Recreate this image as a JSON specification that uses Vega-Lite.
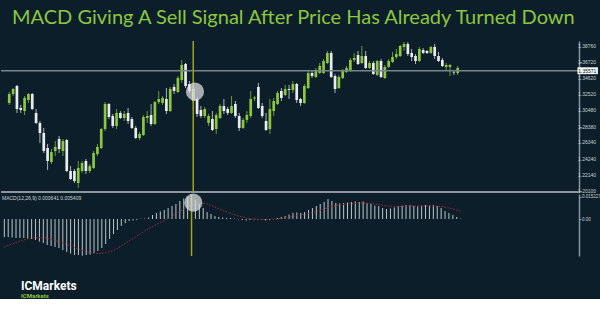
{
  "$schema": "https://vega.github.io/schema/vega-lite/v6.json",
  "background": "#0c1e29",
  "padding": {"left": 0, "top": 8, "right": 0, "bottom": 0},
  "bounds": "flush",
  "title": {"text": "MACD Giving A Sell Signal After Price Has Already Turned Down", "anchor": "start", "color": "#8dc63f", "font": "Lato", "fontSize": 20, "fontWeight": "normal", "offset": 12, "dx": 12},
  "config": {"view": {"stroke": null}, "axis": {"grid": false}},
  "spacing": 2,
  "resolve": {"scale": {"x": "independent", "y": "independent"}},
  "datasets": {
    "candles": [
      {"i":0,"o":1.3142,"h":1.3284,"l":1.3117,"c":1.3258},
      {"i":1,"o":1.3258,"h":1.3335,"l":1.3232,"c":1.3322},
      {"i":2,"o":1.3361,"h":1.3374,"l":1.3014,"c":1.3065},
      {"i":3,"o":1.3078,"h":1.3117,"l":1.3014,"c":1.3052},
      {"i":4,"o":1.3039,"h":1.3232,"l":1.2988,"c":1.3207},
      {"i":5,"o":1.3181,"h":1.3271,"l":1.3142,"c":1.3258},
      {"i":6,"o":1.3258,"h":1.3271,"l":1.3052,"c":1.3065},
      {"i":7,"o":1.3014,"h":1.3065,"l":1.2872,"c":1.2885},
      {"i":8,"o":1.2885,"h":1.2911,"l":1.2628,"c":1.2756},
      {"i":9,"o":1.2756,"h":1.2821,"l":1.2499,"c":1.2525},
      {"i":10,"o":1.2563,"h":1.2615,"l":1.2280,"c":1.2396},
      {"i":11,"o":1.2383,"h":1.2550,"l":1.2357,"c":1.2512},
      {"i":12,"o":1.2525,"h":1.2653,"l":1.2460,"c":1.2576},
      {"i":13,"o":1.2679,"h":1.2718,"l":1.2499,"c":1.2550},
      {"i":14,"o":1.2525,"h":1.2679,"l":1.2460,"c":1.2653},
      {"i":15,"o":1.2666,"h":1.2679,"l":1.2254,"c":1.2267},
      {"i":16,"o":1.2267,"h":1.2331,"l":1.2151,"c":1.2164},
      {"i":17,"o":1.2267,"h":1.2293,"l":1.2113,"c":1.2138},
      {"i":18,"o":1.2113,"h":1.2396,"l":1.2048,"c":1.2306},
      {"i":19,"o":1.2267,"h":1.2396,"l":1.2241,"c":1.2370},
      {"i":20,"o":1.2396,"h":1.2422,"l":1.2229,"c":1.2267},
      {"i":21,"o":1.2267,"h":1.2357,"l":1.2241,"c":1.2331},
      {"i":22,"o":1.2306,"h":1.2525,"l":1.2293,"c":1.2499},
      {"i":23,"o":1.2486,"h":1.2615,"l":1.2460,"c":1.2576},
      {"i":24,"o":1.2563,"h":1.2821,"l":1.2550,"c":1.2808},
      {"i":25,"o":1.2808,"h":1.3155,"l":1.2782,"c":1.3129},
      {"i":26,"o":1.3129,"h":1.3142,"l":1.2936,"c":1.2962},
      {"i":27,"o":1.2975,"h":1.3001,"l":1.2821,"c":1.2846},
      {"i":28,"o":1.2846,"h":1.3065,"l":1.2808,"c":1.3014},
      {"i":29,"o":1.3014,"h":1.3039,"l":1.2936,"c":1.2949},
      {"i":30,"o":1.2949,"h":1.3039,"l":1.2911,"c":1.3001},
      {"i":31,"o":1.3014,"h":1.3078,"l":1.2872,"c":1.2911},
      {"i":32,"o":1.2936,"h":1.2962,"l":1.2808,"c":1.2821},
      {"i":33,"o":1.2821,"h":1.2846,"l":1.2679,"c":1.2692},
      {"i":34,"o":1.2692,"h":1.2769,"l":1.2666,"c":1.2743},
      {"i":35,"o":1.2730,"h":1.2988,"l":1.2718,"c":1.2962},
      {"i":36,"o":1.2949,"h":1.3039,"l":1.2885,"c":1.2975},
      {"i":37,"o":1.2988,"h":1.3129,"l":1.2846,"c":1.2872},
      {"i":38,"o":1.2872,"h":1.3168,"l":1.2859,"c":1.3155},
      {"i":39,"o":1.3155,"h":1.3297,"l":1.3129,"c":1.3194},
      {"i":40,"o":1.3142,"h":1.3232,"l":1.3117,"c":1.3207},
      {"i":41,"o":1.3194,"h":1.3335,"l":1.3001,"c":1.3039},
      {"i":42,"o":1.3039,"h":1.3349,"l":1.3026,"c":1.3322},
      {"i":43,"o":1.3349,"h":1.3387,"l":1.3258,"c":1.3297},
      {"i":44,"o":1.3284,"h":1.3490,"l":1.3271,"c":1.3464},
      {"i":45,"o":1.3438,"h":1.3696,"l":1.3400,"c":1.3631},
      {"i":46,"o":1.3644,"h":1.3657,"l":1.3335,"c":1.3361},
      {"i":47,"o":1.3387,"h":1.3425,"l":1.3271,"c":1.3297},
      {"i":48,"o":1.3322,"h":1.3361,"l":1.3142,"c":1.3168},
      {"i":49,"o":1.3194,"h":1.3207,"l":1.2962,"c":1.3001},
      {"i":50,"o":1.3052,"h":1.3104,"l":1.2949,"c":1.2975},
      {"i":51,"o":1.2975,"h":1.3091,"l":1.2949,"c":1.3065},
      {"i":52,"o":1.2885,"h":1.3001,"l":1.2846,"c":1.2975},
      {"i":53,"o":1.2936,"h":1.3039,"l":1.2782,"c":1.2795},
      {"i":54,"o":1.2808,"h":1.3014,"l":1.2743,"c":1.2988},
      {"i":55,"o":1.2949,"h":1.3129,"l":1.2936,"c":1.3104},
      {"i":56,"o":1.3104,"h":1.3194,"l":1.3001,"c":1.3039},
      {"i":57,"o":1.3065,"h":1.3091,"l":1.2988,"c":1.3014},
      {"i":58,"o":1.3014,"h":1.3232,"l":1.3001,"c":1.3104},
      {"i":59,"o":1.3129,"h":1.3168,"l":1.2949,"c":1.2975},
      {"i":60,"o":1.2975,"h":1.3014,"l":1.2782,"c":1.2821},
      {"i":61,"o":1.2821,"h":1.2949,"l":1.2808,"c":1.2924},
      {"i":62,"o":1.2924,"h":1.3039,"l":1.2885,"c":1.2988},
      {"i":63,"o":1.2975,"h":1.3297,"l":1.2949,"c":1.3194},
      {"i":64,"o":1.3200,"h":1.3232,"l":1.3168,"c":1.3213},
      {"i":65,"o":1.3349,"h":1.3400,"l":1.3065,"c":1.3078},
      {"i":66,"o":1.3104,"h":1.3142,"l":1.2949,"c":1.2975},
      {"i":67,"o":1.2911,"h":1.3014,"l":1.2782,"c":1.2795},
      {"i":68,"o":1.2808,"h":1.3194,"l":1.2743,"c":1.3065},
      {"i":69,"o":1.3039,"h":1.3207,"l":1.2975,"c":1.3168},
      {"i":70,"o":1.3129,"h":1.3297,"l":1.3117,"c":1.3271},
      {"i":71,"o":1.3297,"h":1.3335,"l":1.3168,"c":1.3207},
      {"i":72,"o":1.3245,"h":1.3374,"l":1.3232,"c":1.3322},
      {"i":73,"o":1.3322,"h":1.3374,"l":1.3194,"c":1.3310},
      {"i":74,"o":1.3310,"h":1.3425,"l":1.3271,"c":1.3387},
      {"i":75,"o":1.3387,"h":1.3400,"l":1.3142,"c":1.3181},
      {"i":76,"o":1.3194,"h":1.3207,"l":1.3104,"c":1.3142},
      {"i":77,"o":1.3142,"h":1.3387,"l":1.3129,"c":1.3361},
      {"i":78,"o":1.3335,"h":1.3554,"l":1.3322,"c":1.3528},
      {"i":79,"o":1.3528,"h":1.3554,"l":1.3464,"c":1.3490},
      {"i":80,"o":1.3477,"h":1.3593,"l":1.3464,"c":1.3567},
      {"i":81,"o":1.3528,"h":1.3657,"l":1.3516,"c":1.3618},
      {"i":82,"o":1.3528,"h":1.3709,"l":1.3516,"c":1.3683},
      {"i":83,"o":1.3657,"h":1.3812,"l":1.3644,"c":1.3786},
      {"i":84,"o":1.3786,"h":1.3812,"l":1.3464,"c":1.3477},
      {"i":85,"o":1.3490,"h":1.3516,"l":1.3271,"c":1.3322},
      {"i":86,"o":1.3335,"h":1.3503,"l":1.3322,"c":1.3477},
      {"i":87,"o":1.3464,"h":1.3580,"l":1.3451,"c":1.3554},
      {"i":88,"o":1.3541,"h":1.3618,"l":1.3528,"c":1.3593},
      {"i":89,"o":1.3554,"h":1.3721,"l":1.3541,"c":1.3696},
      {"i":90,"o":1.3696,"h":1.3786,"l":1.3670,"c":1.3721},
      {"i":91,"o":1.3760,"h":1.3812,"l":1.3631,"c":1.3644},
      {"i":92,"o":1.3657,"h":1.3876,"l":1.3644,"c":1.3747},
      {"i":93,"o":1.3747,"h":1.3812,"l":1.3580,"c":1.3593},
      {"i":94,"o":1.3593,"h":1.3683,"l":1.3580,"c":1.3657},
      {"i":95,"o":1.3657,"h":1.3683,"l":1.3503,"c":1.3516},
      {"i":96,"o":1.3503,"h":1.3696,"l":1.3490,"c":1.3683},
      {"i":97,"o":1.3683,"h":1.3709,"l":1.3464,"c":1.3477},
      {"i":98,"o":1.3464,"h":1.3631,"l":1.3451,"c":1.3606},
      {"i":99,"o":1.3606,"h":1.3709,"l":1.3593,"c":1.3683},
      {"i":100,"o":1.3670,"h":1.3799,"l":1.3657,"c":1.3734},
      {"i":101,"o":1.3734,"h":1.3837,"l":1.3709,"c":1.3773},
      {"i":102,"o":1.3747,"h":1.3889,"l":1.3734,"c":1.3876},
      {"i":103,"o":1.3863,"h":1.3927,"l":1.3812,"c":1.3902},
      {"i":104,"o":1.3902,"h":1.3927,"l":1.3747,"c":1.3773},
      {"i":105,"o":1.3786,"h":1.3837,"l":1.3683,"c":1.3734},
      {"i":106,"o":1.3747,"h":1.3773,"l":1.3644,"c":1.3683},
      {"i":107,"o":1.3683,"h":1.3863,"l":1.3670,"c":1.3837},
      {"i":108,"o":1.3824,"h":1.3850,"l":1.3773,"c":1.3786},
      {"i":109,"o":1.3812,"h":1.3824,"l":1.3773,"c":1.3786},
      {"i":110,"o":1.3786,"h":1.3876,"l":1.3773,"c":1.3863},
      {"i":111,"o":1.3863,"h":1.3902,"l":1.3709,"c":1.3747},
      {"i":112,"o":1.3747,"h":1.3799,"l":1.3670,"c":1.3683},
      {"i":113,"o":1.3696,"h":1.3721,"l":1.3606,"c":1.3618},
      {"i":114,"o":1.3606,"h":1.3657,"l":1.3554,"c":1.3631},
      {"i":115,"o":1.3606,"h":1.3644,"l":1.3490,"c":1.3631},
      {"i":116,"o":1.3541,"h":1.3567,"l":1.3503,"c":1.3535},
      {"i":117,"o":1.3528,"h":1.3618,"l":1.3503,"c":1.3593}
    ],
    "macd": [
      {"i":0,"v":-0.0125},{"i":1,"v":-0.0125},{"i":2,"v":-0.0128},{"i":3,"v":-0.0131},{"i":4,"v":-0.0131},
      {"i":5,"v":-0.0131},{"i":6,"v":-0.0135},{"i":7,"v":-0.0138},{"i":8,"v":-0.0145},{"i":9,"v":-0.0156},
      {"i":10,"v":-0.0166},{"i":11,"v":-0.0180},{"i":12,"v":-0.0187},{"i":13,"v":-0.0194},{"i":14,"v":-0.0201},
      {"i":15,"v":-0.0215},{"i":16,"v":-0.0228},{"i":17,"v":-0.0239},{"i":18,"v":-0.0249},{"i":19,"v":-0.0249},
      {"i":20,"v":-0.0253},{"i":21,"v":-0.0249},{"i":22,"v":-0.0246},{"i":23,"v":-0.0235},{"i":24,"v":-0.0221},
      {"i":25,"v":-0.0201},{"i":26,"v":-0.0173},{"i":27,"v":-0.0138},{"i":28,"v":-0.0104},{"i":29,"v":-0.0076},
      {"i":30,"v":-0.0048},{"i":31,"v":-0.0028},{"i":32,"v":-0.0014},{"i":33,"v":-0.0010},{"i":34,"v":-0.0007},
      {"i":35,"v":0.0002},{"i":36,"v":0.0003},{"i":37,"v":0.0010},{"i":38,"v":0.0028},{"i":39,"v":0.0042},
      {"i":40,"v":0.0052},{"i":41,"v":0.0062},{"i":42,"v":0.0076},{"i":43,"v":0.0090},{"i":44,"v":0.0104},
      {"i":45,"v":0.0125},{"i":46,"v":0.0142},{"i":47,"v":0.0152},{"i":48,"v":0.0145},{"i":49,"v":0.0131},
      {"i":50,"v":0.0104},{"i":51,"v":0.0076},{"i":52,"v":0.0048},{"i":53,"v":0.0035},{"i":54,"v":0.0021},
      {"i":55,"v":0.0014},{"i":56,"v":0.0010},{"i":57,"v":0.0007},{"i":58,"v":0.0007},{"i":59,"v":0.0003},
      {"i":60,"v":-0.0003},{"i":61,"v":-0.0007},{"i":62,"v":-0.0010},{"i":63,"v":-0.0007},{"i":64,"v":-0.0003},
      {"i":65,"v":-0.0003},{"i":66,"v":-0.0007},{"i":67,"v":-0.0010},{"i":68,"v":-0.0007},{"i":69,"v":0.0001},
      {"i":70,"v":0.0007},{"i":71,"v":0.0014},{"i":72,"v":0.0021},{"i":73,"v":0.0031},{"i":74,"v":0.0042},
      {"i":75,"v":0.0045},{"i":76,"v":0.0042},{"i":77,"v":0.0048},{"i":78,"v":0.0062},{"i":79,"v":0.0076},
      {"i":80,"v":0.0090},{"i":81,"v":0.0104},{"i":82,"v":0.0118},{"i":83,"v":0.0138},{"i":84,"v":0.0125},
      {"i":85,"v":0.0111},{"i":86,"v":0.0107},{"i":87,"v":0.0111},{"i":88,"v":0.0114},{"i":89,"v":0.0118},
      {"i":90,"v":0.0121},{"i":91,"v":0.0118},{"i":92,"v":0.0121},{"i":93,"v":0.0111},{"i":94,"v":0.0104},
      {"i":95,"v":0.0093},{"i":96,"v":0.0090},{"i":97,"v":0.0076},{"i":98,"v":0.0069},{"i":99,"v":0.0073},
      {"i":100,"v":0.0080},{"i":101,"v":0.0087},{"i":102,"v":0.0093},{"i":103,"v":0.0097},{"i":104,"v":0.0097},
      {"i":105,"v":0.0090},{"i":106,"v":0.0087},{"i":107,"v":0.0093},{"i":108,"v":0.0097},{"i":109,"v":0.0093},
      {"i":110,"v":0.0097},{"i":111,"v":0.0090},{"i":112,"v":0.0076},{"i":113,"v":0.0055},{"i":114,"v":0.0042},
      {"i":115,"v":0.0028},{"i":116,"v":0.0014},{"i":117,"v":0.0003}
    ],
    "signal": [
      {"i":0,"s":-0.0194},{"i":2,"s":-0.0173},{"i":4,"s":-0.0152},{"i":6,"s":-0.0138},{"i":8,"s":-0.0128},
      {"i":10,"s":-0.0128},{"i":12,"s":-0.0138},{"i":14,"s":-0.0156},{"i":16,"s":-0.0176},{"i":18,"s":-0.0197},
      {"i":20,"s":-0.0218},{"i":22,"s":-0.0232},{"i":24,"s":-0.0239},{"i":26,"s":-0.0235},{"i":28,"s":-0.0218},
      {"i":30,"s":-0.0187},{"i":32,"s":-0.0152},{"i":34,"s":-0.0118},{"i":36,"s":-0.0083},{"i":38,"s":-0.0052},
      {"i":40,"s":-0.0024},{"i":42,"s":0.0003},{"i":44,"s":0.0035},{"i":46,"s":0.0069},{"i":48,"s":0.0097},
      {"i":50,"s":0.0111},{"i":52,"s":0.0104},{"i":54,"s":0.0083},{"i":56,"s":0.0059},{"i":58,"s":0.0038},
      {"i":60,"s":0.0021},{"i":62,"s":0.0007},{"i":64,"s":0.0000},{"i":66,"s":-0.0003},{"i":68,"s":-0.0003},
      {"i":70,"s":0.0000},{"i":72,"s":0.0007},{"i":74,"s":0.0017},{"i":76,"s":0.0028},{"i":78,"s":0.0038},
      {"i":80,"s":0.0052},{"i":82,"s":0.0069},{"i":84,"s":0.0087},{"i":86,"s":0.0097},{"i":88,"s":0.0104},
      {"i":90,"s":0.0107},{"i":92,"s":0.0111},{"i":94,"s":0.0107},{"i":96,"s":0.0100},{"i":98,"s":0.0090},
      {"i":100,"s":0.0087},{"i":102,"s":0.0087},{"i":104,"s":0.0090},{"i":106,"s":0.0090},{"i":108,"s":0.0090},
      {"i":110,"s":0.0090},{"i":112,"s":0.0087},{"i":114,"s":0.0076},{"i":116,"s":0.0062},{"i":117,"s":0.0055}
    ],
    "priceTicks": [
      {"p":1.201,"t":"1.20100"},{"p":1.2214,"t":"1.22140"},{"p":1.2424,"t":"1.24240"},{"p":1.2634,"t":"1.26340"},
      {"p":1.2838,"t":"1.28380"},{"p":1.3048,"t":"1.30480"},{"p":1.3252,"t":"1.32520"},{"p":1.3462,"t":"1.34620"},
      {"p":1.3672,"t":"1.36720"},{"p":1.3876,"t":"1.38760"}
    ]
  },
  "vconcat": [
    {
      "width": 578,
      "height": 151,
      "layer": [
        {
          "data": {"name": "candles"},
          "mark": {"type": "rule", "strokeWidth": 1},
          "encoding": {
            "x": {"field": "i", "type": "quantitative", "scale": {"domain": [-0.85, 147.35], "nice": false, "zero": false}, "axis": null},
            "y": {"field": "l", "type": "quantitative", "scale": {"domain": [1.1997, 1.394], "nice": false, "zero": false},
                  "axis": {"orient": "right", "title": null, "values": [1.201, 1.2214, 1.2424, 1.2634, 1.2838, 1.3048, 1.3252, 1.3462, 1.3672, 1.3876],
                           "labels": false, "domainColor": "#8a979c", "domainWidth": 1.5, "tickColor": "#8a979c", "tickSize": 2.5}},
            "y2": {"field": "h"},
            "color": {"condition": {"test": "datum.c > datum.o", "value": "#6f9a32"}, "value": "#aab4b8"}
          }
        },
        {
          "data": {"name": "candles"},
          "mark": {"type": "bar", "width": 2.7},
          "encoding": {
            "x": {"field": "i", "type": "quantitative"},
            "y": {"field": "o", "type": "quantitative"},
            "y2": {"field": "c"},
            "color": {"condition": {"test": "datum.c > datum.o", "value": "#8dc63f"}, "value": "#e8ecec"}
          }
        },
        {
          "data": {"name": "priceTicks"},
          "mark": {"type": "text", "align": "left", "baseline": "middle", "font": "Liberation Sans", "fontSize": 5, "color": "#c9d0d3"},
          "encoding": {
            "x": {"datum": 148.4},
            "y": {"field": "p", "type": "quantitative"},
            "text": {"field": "t"}
          }
        },
        {
          "data": {"values": [{"price": 1.35571}]},
          "mark": {"type": "rule", "strokeWidth": 1.5, "color": "#76858a"},
          "encoding": {"y": {"field": "price", "type": "quantitative"}}
        },
        {
          "data": {"values": [{"price": 1.35571}]},
          "mark": {"type": "rect", "color": "#f2f4f4"},
          "encoding": {
            "x": {"datum": 148.25}, "x2": {"datum": 153.6},
            "y": {"datum": 1.3602}, "y2": {"datum": 1.3513}
          }
        },
        {
          "data": {"values": [{"price": 1.35571, "t": "1.35571"}]},
          "mark": {"type": "text", "align": "left", "baseline": "middle", "font": "Liberation Sans", "fontSize": 5, "color": "#0c1e29"},
          "encoding": {
            "x": {"datum": 148.45},
            "y": {"field": "price", "type": "quantitative"},
            "text": {"field": "t"}
          }
        },
        {
          "data": {"values": [{"price": 1.1997}]},
          "mark": {"type": "rule", "strokeWidth": 2, "color": "#8a979c"},
          "encoding": {"y": {"field": "price", "type": "quantitative"}}
        },
        {
          "data": {"values": [{"i": 48}]},
          "mark": {"type": "rule", "strokeWidth": 1.5, "color": "#a3a31f"},
          "encoding": {"x": {"field": "i", "type": "quantitative"}}
        },
        {
          "data": {"values": [{"i": 48.46, "p": 1.3288}]},
          "mark": {"type": "circle", "size": 330, "color": "#dfe3e3", "opacity": 0.72},
          "encoding": {"x": {"field": "i", "type": "quantitative"}, "y": {"field": "p", "type": "quantitative"}}
        }
      ]
    },
    {
      "width": 578,
      "height": 62,
      "title": {"text": "ICMarkets", "subtitle": "ICMarkets", "orient": "bottom", "anchor": "start", "color": "#ffffff", "font": "Roboto", "fontSize": 12, "fontWeight": "bold", "subtitleColor": "#8dc63f", "subtitleFont": "Roboto", "subtitleFontSize": 6, "subtitleFontWeight": "bold", "subtitlePadding": 0, "offset": 24, "dx": 20},
      "layer": [
        {
          "data": {"name": "macd"},
          "mark": {"type": "rule", "strokeWidth": 1, "color": "#bcc6ca"},
          "encoding": {
            "x": {"field": "i", "type": "quantitative", "scale": {"domain": [-0.85, 147.35], "nice": false, "zero": false}, "axis": null},
            "y": {"field": "v", "type": "quantitative", "scale": {"domain": [-0.0256, 0.0173], "nice": false, "zero": false},
                  "axis": {"orient": "right", "title": null, "values": [0, 0.015227], "labelExpr": "datum.value == 0 ? '0.00' : format(datum.value, '.6f')",
                           "labelFont": "Liberation Sans", "labelFontSize": 4.5, "labelColor": "#c9d0d3", "labelPadding": 0.5, "labelFlush": false,
                           "domainColor": "#8a979c", "domainWidth": 1.5, "tickColor": "#8a979c", "tickSize": 2}},
            "y2": {"datum": 0}
          }
        },
        {
          "data": {"name": "signal"},
          "mark": {"type": "line", "strokeWidth": 1, "color": "#a02c3a", "strokeDash": [1.5, 1.5]},
          "encoding": {
            "x": {"field": "i", "type": "quantitative"},
            "y": {"field": "s", "type": "quantitative"}
          }
        },
        {
          "data": {"values": [{"i": 48}]},
          "mark": {"type": "rule", "strokeWidth": 1.5, "color": "#a3a31f"},
          "encoding": {"x": {"field": "i", "type": "quantitative"}}
        },
        {
          "data": {"values": [{"i": 48.46, "v": 0.01128}]},
          "mark": {"type": "circle", "size": 330, "color": "#dfe3e3", "opacity": 0.72},
          "encoding": {"x": {"field": "i", "type": "quantitative"}, "y": {"field": "v", "type": "quantitative"}}
        },
        {
          "data": {"values": [{"t": "MACD(12,26,9) 0.000641 0.005409"}]},
          "mark": {"type": "text", "align": "left", "baseline": "middle", "font": "Liberation Sans", "fontSize": 5, "color": "#d0d6d8"},
          "encoding": {"x": {"datum": -0.6}, "y": {"datum": 0.0145}, "text": {"field": "t"}}
        }
      ]
    }
  ]
}
